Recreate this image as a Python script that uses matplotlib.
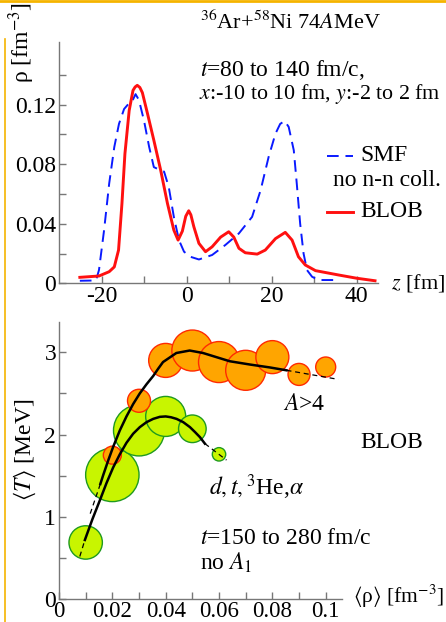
import matplotlib
matplotlib.use("Agg")
import matplotlib.pyplot as plt
from matplotlib.lines import Line2D
from matplotlib.ticker import MultipleLocator, FixedLocator

plt.rcParams['font.family'] = ['Liberation Serif', 'DejaVu Serif']
plt.rcParams['mathtext.fontset'] = 'stix'
plt.rcParams['axes.unicode_minus'] = False

# density profile along z (top panel)
z_smf = [-25.1, -21.3, -20.6, -19.4, -18.2, -17.0, -15.9, -14.7, -13.5, -12.9, -12.0,
         -11.2, -10.0, -8.8, -7.7, -6.5, -5.3, -4.2, -3.0, -1.8, -0.6, 0.9, 2.9, 6.0,
         9.1, 12.3, 15.4, 17.4, 19.3, 20.9, 22.0, 23.05, 24.0, 25.2, 25.9, 26.7, 27.5,
         28.3, 29.5, 31.0, 35.0]
rho_smf = [0.0017, 0.0019, 0.0089, 0.0357, 0.067, 0.0915, 0.107, 0.117, 0.121, 0.1216, 0.127,
           0.123, 0.109, 0.0915, 0.078, 0.0764, 0.075, 0.0647, 0.0446, 0.029, 0.0212, 0.0178,
           0.016, 0.019, 0.0257, 0.0335, 0.0446, 0.0625, 0.085, 0.1005, 0.107, 0.109, 0.105,
           0.0893, 0.067, 0.040, 0.020, 0.0089, 0.0044, 0.0022, 0.0022]

z_blob = [-25.1, -20.6, -18.2, -17.0, -16.0, -15.2, -14.5, -13.5, -12.6, -12.1, -11.6, -11.0,
          -10.4, -9.2, -7.7, -6.1, -4.5, -3.0, -2.0, -1.0, -0.2, 0.5, 1.0, 1.7, 2.9, 4.45,
          6.0, 8.0, 9.9, 11.1, 12.3, 13.8, 16.6, 18.5, 20.9, 23.2, 24.8, 26.3, 27.9, 30.3,
          35.7, 40.0, 44.3]
rho_blob = [0.004, 0.0049, 0.0078, 0.011, 0.0223, 0.0536, 0.087, 0.116, 0.1295, 0.1318,
            0.1329, 0.1315, 0.128, 0.114, 0.096, 0.076, 0.0536, 0.0357, 0.029, 0.035, 0.045,
            0.0487, 0.046, 0.038, 0.0268, 0.0212, 0.0245, 0.031, 0.0346, 0.031, 0.0235,
            0.0205, 0.0196, 0.0223, 0.030, 0.0342, 0.029, 0.0178, 0.0123, 0.0085, 0.0056,
            0.0034, 0.0017]

# <T> vs <rho> (bottom panel), bubble size ~ yield
rho_big = [0.02, 0.03, 0.04, 0.05, 0.06, 0.07, 0.08, 0.09, 0.10]
T_big = [1.75, 2.41, 2.90, 3.02, 2.88, 2.78, 2.94, 2.73, 2.82]
size_big = [9, 11.5, 17, 20.5, 20.5, 20, 16.5, 11, 10]

rho_lcp = [0.01, 0.02, 0.03, 0.04, 0.05, 0.06]
T_lcp = [0.69, 1.51, 2.05, 2.22, 2.07, 1.76]
size_lcp = [16.7, 26.7, 25.5, 20, 13.8, 6.7]

# fit curves
fit_big_x = [0.0155, 0.0166, 0.0185, 0.0203, 0.0228, 0.0253, 0.0278, 0.0303, 0.0328, 0.0353,
             0.0372, 0.039, 0.044, 0.049, 0.054, 0.059, 0.064, 0.0716, 0.079, 0.0853]
fit_big_y = [1.40, 1.51, 1.69, 1.85, 2.05, 2.22, 2.37, 2.50, 2.61, 2.71, 2.80, 2.88, 2.99,
             3.02, 2.99, 2.94, 2.89, 2.85, 2.815, 2.78]
ext_big_lo = ([0.0117, 0.0155], [1.04, 1.40])
ext_big_hi = ([0.0853, 0.1047], [2.78, 2.67])

fit_lcp_x = [0.0097, 0.0125, 0.0153, 0.0178, 0.0203, 0.0228, 0.0253, 0.0278, 0.0303, 0.0328,
             0.0353, 0.0378, 0.0400, 0.0420, 0.0441, 0.0466, 0.0491, 0.0510, 0.0528, 0.0547]
fit_lcp_y = [0.72, 0.97, 1.20, 1.41, 1.60, 1.76, 1.90, 2.01, 2.09, 2.15, 2.19, 2.215, 2.22,
             2.21, 2.19, 2.15, 2.09, 2.03, 1.97, 1.89]
ext_lcp_lo = ([0.0078, 0.0097], [0.52, 0.72])
ext_lcp_hi = ([0.0547, 0.0628], [1.89, 1.69])

W, H = 446, 622
DPI = 100
fig = plt.figure(figsize=(W / DPI, H / DPI), dpi=DPI)


def fx(px):
    return px / W


def fy(py):
    return 1 - py / H


def txt(px, py, s, **kw):
    kw.setdefault('fontsize', 17)
    kw.setdefault('va', 'center')
    fig.text(fx(px), fy(py), s, **kw)


def style_axes(ax):
    for side in ['top', 'right']:
        ax.spines[side].set_visible(False)
    for side in ['left', 'bottom']:
        ax.spines[side].set_color('#777777')
        ax.spines[side].set_linewidth(1.0)
    ax.tick_params(which='both', direction='in', color='#777777', length=5, width=1,
                   labelsize=17, pad=2)


# ---- top panel ----
ax1 = fig.add_axes([fx(59), fy(283.3), fx(378 - 59), (283.3 - 42) / H])
ax1.plot(z_smf, rho_smf, color='#0a1aff', lw=1.4, dashes=(6, 3.5))
ax1.plot(z_blob, rho_blob, color='#ff1010', lw=2.1, solid_joinstyle='round')
ax1.set_xlim(-30, 45)
ax1.set_ylim(0, 0.162)
ax1.xaxis.set_major_locator(FixedLocator([-20, 0, 20, 40]))
ax1.xaxis.set_minor_locator(FixedLocator([-10, 10, 30]))
ax1.yaxis.set_major_locator(FixedLocator([0, 0.04, 0.08, 0.12]))
ax1.yaxis.set_minor_locator(FixedLocator([0.02, 0.06, 0.10, 0.14]))
ax1.set_yticklabels(['0', '0.04', '0.08', '0.12'])
ax1.set_xticklabels(['-20', '0', '20', '40'])
style_axes(ax1)

# legend drawn by hand
fig.add_artist(Line2D([fx(327), fx(353)], [fy(156), fy(156)], color='#0a1aff', lw=1.4,
                      dashes=(6, 3.5)))
fig.add_artist(Line2D([fx(327), fx(353)], [fy(212), fy(212)], color='#ff1010', lw=2.1))
txt(360, 156, 'SMF')
txt(333, 180, 'no n-n coll.')
txt(360, 212, 'BLOB')

txt(200, 22, r'$^{36}$Ar+$^{58}$Ni 74$A$MeV', fontsize=16)
txt(200, 70, r'$t$=80 to 140 fm/c,')
txt(199, 94, r'$x$:-10 to 10 fm, $y$:-2 to 2 fm', fontsize=15.8)
txt(22, 42, r'ρ [fm$^{-3}$]', rotation=90, ha='center')
txt(445, 283, r'$z$ [fm]', fontsize=16, ha='right')

# ---- bottom panel ----
ax2 = fig.add_axes([fx(59), fy(599.3), fx(341.7 - 59), (599.3 - 321.7) / H])
k = 72.0 / DPI
ax2.scatter(rho_lcp, T_lcp, s=[(2 * r * k) ** 2 for r in size_lcp], facecolor='#c8f500',
            edgecolor='#1f9a1f', linewidth=1.0, zorder=2)
ax2.scatter(rho_big, T_big, s=[(2 * r * k) ** 2 for r in size_big], facecolor='#ffa500',
            edgecolor='#ff2a00', linewidth=1.0, zorder=3)
ax2.plot(fit_big_x, fit_big_y, color='black', lw=1.8, zorder=4, solid_joinstyle='round')
ax2.plot(fit_lcp_x, fit_lcp_y, color='black', lw=1.8, zorder=4, solid_joinstyle='round')
for ex in [ext_big_lo, ext_big_hi, ext_lcp_lo, ext_lcp_hi]:
    ax2.plot(ex[0], ex[1], color='black', lw=0.9, dashes=(4, 3), zorder=4)
ax2.set_xlim(0, 0.106)
ax2.set_ylim(0, 3.37)
ax2.xaxis.set_major_locator(FixedLocator([0, 0.02, 0.04, 0.06, 0.08, 0.1]))
ax2.xaxis.set_minor_locator(MultipleLocator(0.01))
ax2.set_xticklabels(['0', '0.02', '0.04', '0.06', '0.08', '0.1'])
ax2.yaxis.set_major_locator(FixedLocator([0, 1, 2, 3]))
ax2.yaxis.set_minor_locator(MultipleLocator(0.5))
ax2.set_yticklabels(['0', '1', '2', '3'])
style_axes(ax2)
ax2.tick_params(axis='x', labelsize=16.5, pad=1)

txt(25, 450, r'$\langle T\rangle$ [MeV]', rotation=90, ha='center')
txt(283, 405, r'$A$>4')
txt(360, 442, 'BLOB')
txt(209, 487, r'$d,t,^{3}$He,$\alpha$')
txt(200, 538, r'$t$=150 to 280 fm/c')
txt(200, 563, r'no $A_1$')
txt(444, 596, r'$\langle$ρ$\rangle$ [fm$^{-3}$]', fontsize=15.5, ha='right')

# frame lines of the original page
fig.add_artist(Line2D([0, 1], [fy(1), fy(1)], color='#f5b400', lw=2.0))
fig.add_artist(Line2D([fx(5), fx(5)], [fy(39), 0], color='#f5b400', lw=1.2))

fig.savefig('out.png', dpi=DPI)
